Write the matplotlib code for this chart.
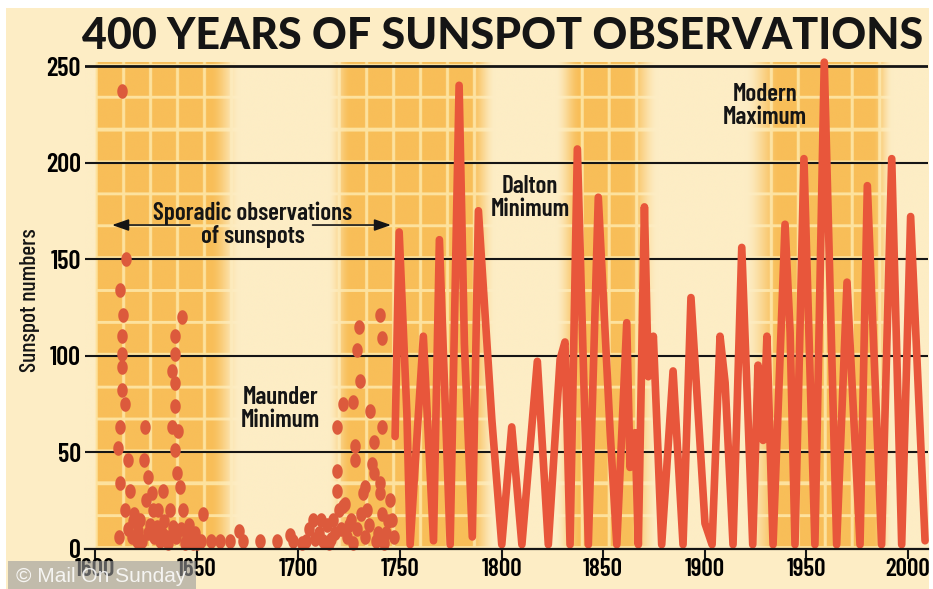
import numpy as np
import matplotlib
matplotlib.use("Agg")
import matplotlib.pyplot as plt
from matplotlib.path import Path
from matplotlib.patches import Rectangle

# ---------------- data ----------------
title = "400 YEARS OF SUNSPOT OBSERVATIONS"
y_label = "Sunspot numbers"
x_ticks = [1600, 1650, 1700, 1750, 1800, 1850, 1900, 1950, 2000]
y_ticks = [0, 50, 100, 150, 200, 250]

# continuous record from 1749 on (peaks, troughs and shoulders)
line_years = [1747.6, 1749.6, 1753.4, 1755.0, 1761.5, 1766.5, 1769.4, 1774.7, 1779.1, 1781.7,
              1785.6, 1788.6, 1795.2, 1800.1, 1805.0, 1810.0, 1817.6, 1823.0, 1828.8, 1831.2,
              1833.7, 1837.3, 1842.7, 1847.6, 1853.4, 1856.7, 1861.6, 1863.2, 1865.7, 1867.3,
              1870.3, 1872.2, 1874.7, 1878.8, 1884.4, 1889.3, 1893.2, 1900.1, 1903.6, 1907.5,
              1910.0, 1913.9, 1918.2, 1923.6, 1926.2, 1928.7, 1930.6, 1933.6, 1939.5, 1942.0,
              1944.4, 1948.8, 1954.2, 1958.8, 1964.9, 1970.0, 1976.4, 1980.0, 1987.0, 1992.0,
              1996.9, 2001.3, 2008.4]
line_values = [58, 164, 70, 2, 110, 4, 160, 2, 240, 106,
               6, 175, 67, 2, 63, 2, 97, 2, 98, 107,
               2, 207, 2, 182, 61, 2, 117, 42, 60, 2,
               177, 89, 110, 2, 92, 2, 130, 13, 2, 110,
               86, 2, 156, 2, 95, 56, 110, 2, 168, 112,
               2, 202, 2, 252, 2, 138, 2, 188, 2, 202,
               2, 172, 4]

# sporadic early observations (dots)
dot_years = [1611.0, 1611.5, 1612.3, 1612.3, 1612.3, 1613.1, 1613.1, 1613.1, 1613.1, 1613.1,
             1613.9, 1614.8, 1614.8, 1615.3, 1616.4, 1617.2, 1618.0, 1619.0, 1620.5, 1621.0,
             1622.1, 1623.8, 1624.6, 1625.0, 1626.2, 1626.2, 1627.9, 1628.7, 1629.0, 1630.4,
             1631.0, 1632.0, 1633.6, 1634.0, 1635.3, 1636.0, 1637.7, 1637.7, 1638.5, 1639.4,
             1639.4, 1639.4, 1639.4, 1639.4, 1640.2, 1641.0, 1641.8, 1642.0, 1642.7, 1643.4,
             1644.0, 1645.1, 1647.0, 1649.0, 1650.0, 1652.0, 1653.3, 1657.0, 1661.5, 1666.4,
             1671.0, 1673.0, 1681.0, 1689.5, 1696.0, 1697.4, 1704.0, 1705.0, 1707.0, 1708.0,
             1710.0, 1712.0, 1714.0, 1716.0, 1717.2, 1718.9, 1719.0, 1719.0, 1720.0, 1721.0,
             1721.9, 1722.0, 1723.0, 1724.0, 1726.0, 1727.1, 1728.0, 1728.0, 1728.7, 1729.0,
             1730.0, 1730.4, 1731.0, 1732.0, 1732.8, 1733.0, 1735.0, 1735.3, 1736.1, 1737.0,
             1737.0, 1738.0, 1740.2, 1740.2, 1740.0, 1741.1, 1741.1, 1741.0, 1743.0, 1745.0,
             1746.0, 1747.0,
             1616.0, 1618.5, 1623.0, 1627.0, 1633.0, 1637.0, 1640.0, 1646.0, 1648.0,
             1702.0, 1711.0, 1715.0, 1718.0, 1725.0, 1727.0, 1734.0, 1739.0, 1742.0, 1744.0]
dot_values = [52, 6, 134, 63, 34, 237, 110, 101, 94, 82,
              121, 75, 20, 150, 46, 30, 6, 18, 4, 9,
              15, 46, 63, 25, 37, 8, 29, 20, 6, 11,
              20, 4, 30, 14, 6, 3, 92, 63, 11, 110,
              101, 86, 74, 51, 39, 61, 32, 10, 120, 20,
              3, 6, 4, 8, 3, 4, 18, 4, 4, 4,
              9, 4, 4, 4, 7, 4, 4, 10, 15, 5,
              8, 4, 12, 5, 15, 63, 40, 30, 20, 10,
              75, 22, 23, 6, 15, 76, 53, 46, 103, 10,
              115, 87, 18, 29, 32, 6, 12, 71, 44, 55,
              39, 4, 121, 34, 29, 109, 63, 18, 8, 25,
              15, 6,
              10, 14, 4, 12, 8, 20, 6, 12, 3,
              3, 15, 3, 8, 12, 3, 20, 8, 3, 14]

# labelled periods
notes = ["Sporadic observations\nof sunspots", "Maunder\nMinimum", "Dalton\nMinimum", "Modern\nMaximum"]
note_years = [1677.5, 1691.0, 1814.0, 1929.6]
note_values = [167.6, 72.3, 181.6, 229.3]
arrow_from_years = [1646.6, 1707.0]
arrow_to_years = [1608.3, 1745.6]
arrow_value = 167.6

# shaded bands: (fade-in start, full start, full end, fade-out end) in years
bands = [(1600.0, 1600.01, 1656.6, 1671.3),
         (1714.6, 1725.5, 1784.5, 1796.8),
         (1826.3, 1838.6, 1862.2, 1876.9),
         (1919.6, 1936.8, 1982.5, 1992.3)]

# ---------------- style ----------------
BG = np.array([253, 237, 197]) / 255.0
BAND = np.array([248, 190, 88]) / 255.0
BAND_GRID = np.array([253, 226, 158]) / 255.0
RED = "#E8563B"
DOT = "#DC5A3C"
INK = "#151515"
COND = ['Barlow Condensed', 'Liberation Sans', 'DejaVu Sans']

plt.rcParams['font.family'] = COND

W, H = 933, 589
fig = plt.figure(figsize=(W / 100, H / 100), dpi=100)
fig.patch.set_facecolor("white")
fig.patches.append(Rectangle((6 / W, 0), (929 - 6) / W, (H - 8) / H, transform=fig.transFigure,
                             facecolor=BG, edgecolor="none", zorder=-10))

XMIN, XMAX, YMIN, YMAX = 1595, 2010, 0, 252
ax_left = 85 / W
ax_right = 928.3 / W
ax_bottom = 1 - 548.5 / H
ax_top = 1 - (548.5 - 252 * 1.93) / H
ax = fig.add_axes([ax_left, ax_bottom, ax_right - ax_left, ax_top - ax_bottom])
ax.set_xlim(XMIN, XMAX)
ax.set_ylim(YMIN, YMAX)
ax.patch.set_alpha(0)

# background bands image
nx, ny = 1660, 504
xs = np.linspace(XMIN, XMAX, nx)
ys = np.linspace(YMIN, YMAX, ny)

def smooth(t):
    t = np.clip(t, 0, 1)
    return t * t * (3 - 2 * t)

alpha = np.zeros(nx)
for a0, a1, b1, b0 in bands:
    up = smooth((xs - a0) / max(a1 - a0, 1e-6))
    down = smooth((b0 - xs) / max(b0 - b1, 1e-6))
    alpha = np.maximum(alpha, np.minimum(up, down) * (xs >= a0))

gx_step = 27 / 2.0325
gx = np.abs(((xs - 1600.5) + gx_step / 2) % gx_step - gx_step / 2) < 0.75
gy_step = 50 / 3
gy = np.abs(((ys) + gy_step / 2) % gy_step - gy_step / 2) < 0.8
grid = (gx[None, :] | gy[:, None]).astype(float)
band_col = BAND[None, None, :] * (1 - grid[..., None]) + BAND_GRID[None, None, :] * grid[..., None]
img = BG[None, None, :] * (1 - alpha[None, :, None]) + band_col * alpha[None, :, None]
ax.imshow(img, extent=(XMIN, XMAX, YMIN, YMAX), origin='lower', aspect='auto',
          interpolation='bilinear', zorder=0)

# horizontal rules
for v in y_ticks[1:]:
    ax.axhline(v, color=INK, lw=1.5 if v < 250 else 2.0, zorder=2)

# dots: vertical ellipse marker
th = np.linspace(0, 2 * np.pi, 40)
ell = Path(np.column_stack([0.72 * np.cos(th), np.sin(th)]), closed=True)
ax.plot(dot_years, dot_values, linestyle='none', marker=ell, ms=10.5, color=DOT,
        mec='none', zorder=3, clip_on=False)

# continuous line
ax.plot(line_years, line_values, color=RED, lw=5.5, solid_capstyle='round',
        solid_joinstyle='round', zorder=4, clip_on=False)

# spines / ticks
for s in ['top', 'right', 'left']:
    ax.spines[s].set_visible(False)
ax.spines['bottom'].set_color(INK)
ax.spines['bottom'].set_linewidth(1.6)
ax.spines['bottom'].set_zorder(5)
ax.set_xticks(x_ticks)
ax.set_xticklabels([str(t) for t in x_ticks], fontsize=18, fontweight='semibold')
ax.set_yticks(y_ticks)
ax.set_yticklabels([str(t) for t in y_ticks], fontsize=19, fontweight='semibold')
ax.tick_params(axis='x', length=7, width=1.5, color=INK, direction='out', pad=0)
ax.tick_params(axis='y', length=0, pad=3)

fig.text(30 / W, 1 - 300 / H, y_label, rotation=90, ha='center', va='center', fontsize=17,
         fontweight='medium', color=INK)

# title
fig.text(82 / W, 1 - 49 / H, title, ha='left', va='baseline', fontsize=31,
         fontweight='black', family=['Lato', 'DejaVu Sans'], color=INK)

# annotations
for t, xv, yv in zip(notes, note_years, note_values):
    ax.text(xv, yv, t, ha='center', va='center', fontsize=18, fontweight='semibold', color=INK,
            linespacing=1.0, zorder=6)
for x0, x1 in zip(arrow_from_years, arrow_to_years):
    ax.annotate("", xy=(x1, arrow_value), xytext=(x0, arrow_value),
                arrowprops=dict(arrowstyle='-|>,head_length=1.0,head_width=0.35',
                                color=INK, lw=1.2, shrinkA=0, shrinkB=0), zorder=6)

# watermark
fig.patches.append(Rectangle((8 / W, 0), (196 - 8) / W, (H - 561) / H, transform=fig.transFigure,
                             facecolor="#9a9a9a", edgecolor="none", alpha=0.6, zorder=20))
fig.text(16 / W, 1 - 576 / H, "\u00a9 Mail On Sunday", ha='left', va='center', fontsize=15,
         color='white', alpha=0.85, zorder=21, family=['Liberation Sans', 'DejaVu Sans'])

fig.savefig("out.png", dpi=100, facecolor=fig.get_facecolor())
